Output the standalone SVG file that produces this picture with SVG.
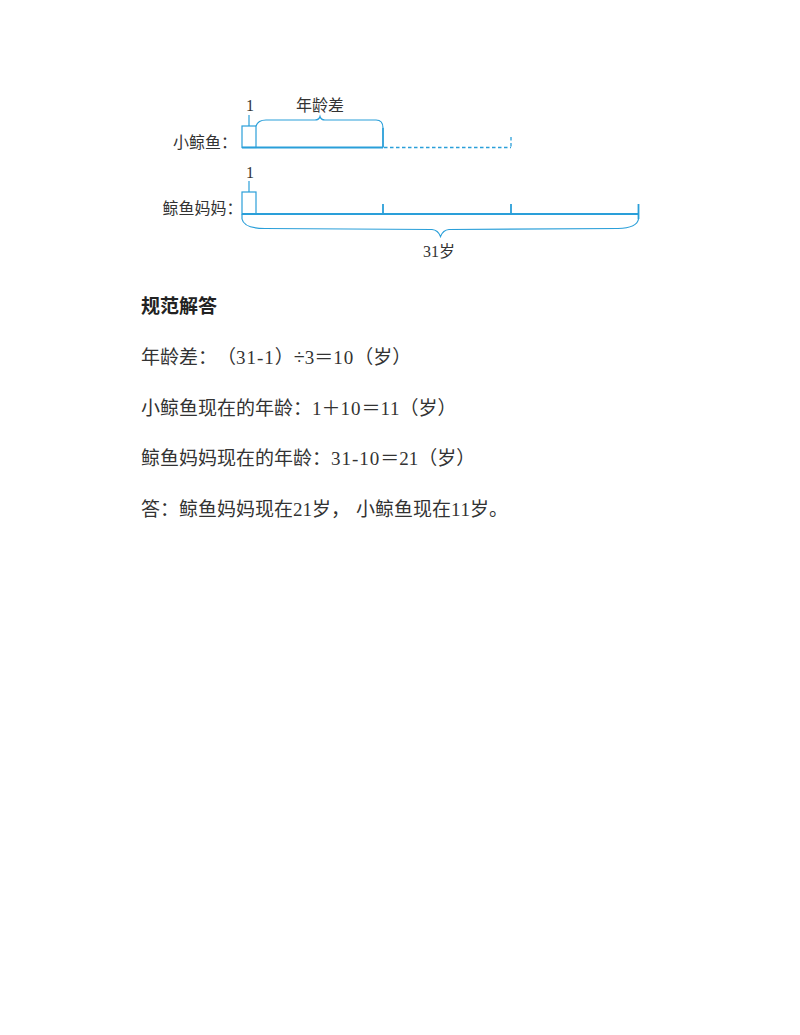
<svg xmlns="http://www.w3.org/2000/svg" width="800" height="1035" viewBox="0 0 800 1035">
<style>
text{text-spacing-trim:space-all;font-kerning:none}
.bar{stroke:#2a9fd9;stroke-width:1.8;fill:none}
.thin{stroke:#2a9fd9;stroke-width:1.2;fill:none}
.dash{stroke:#2a9fd9;stroke-width:1.3;fill:none;stroke-dasharray:3.5 2.5}
.lbl{font-family:"Liberation Serif","Noto Sans CJK SC",serif;font-size:16px;fill:#333}
.body{font-family:"Liberation Serif","Noto Sans CJK SC",serif;font-size:19px;fill:#333}
.head{font-family:"Noto Sans CJK SC",sans-serif;font-size:19px;font-weight:bold;fill:#222}
.num{letter-spacing:1px}
</style>
<rect width="800" height="1035" fill="#fff"/>
<g id="whale-bar">
<text class="lbl" x="173" y="148">小鲸鱼：</text>
<text class="lbl" x="250" y="111" text-anchor="middle" font-size="17">1</text>
<text class="lbl" x="320" y="111" text-anchor="middle">年龄差</text>
<line class="thin" x1="249" y1="115" x2="249" y2="126"/>
<rect class="thin" x="242" y="126" width="14" height="21.5"/>
<path class="thin" d="M256,126 Q258,120 266,120 L315,120 Q319,120 320,116.5 Q321,120 325,120 L376,120 Q383,120 383,128"/>
<line class="bar" x1="242" y1="147.5" x2="383" y2="147.5"/>
<line class="bar" x1="383" y1="128" x2="383" y2="147.5"/>
<line class="dash" x1="384" y1="147.5" x2="511" y2="147.5"/>
<line class="dash" x1="511" y1="137" x2="511" y2="147"/>
</g>
<g id="mother-bar">
<text class="lbl" x="162.5" y="214">鲸鱼妈妈：</text>
<text class="lbl" x="250" y="178" text-anchor="middle" font-size="17">1</text>
<line class="thin" x1="249" y1="181" x2="249" y2="192"/>
<rect class="thin" x="242" y="192" width="14" height="22"/>
<line class="bar" x1="242" y1="214" x2="638.5" y2="214"/>
<line class="bar" x1="383" y1="204" x2="383" y2="214"/>
<line class="bar" x1="511" y1="204" x2="511" y2="214"/>
<line class="bar" x1="638.5" y1="204" x2="638.5" y2="219"/>
<path class="thin" d="M242,214 L242,219 Q244,228.5 265,228.5 L432,229.5 Q438,230 440.5,236.5 Q443,230 449,229.5 L618,228.5 Q637,228 638.5,219"/>
<text class="lbl" x="439" y="257" text-anchor="middle">31岁</text>
</g>
<g id="solution">
<text class="head" x="141" y="313">规范解答</text>
<text class="body" x="141" y="363.5">年龄差：（<tspan class="num">31-1</tspan>）<tspan font-size="20">÷</tspan>3＝<tspan class="num">10</tspan>（岁）</text>
<text class="body" x="141" y="414.5">小鲸鱼现在的年龄：1＋<tspan class="num">10</tspan>＝11（岁）</text>
<text class="body" x="141" y="465">鲸鱼妈妈现在的年龄：<tspan class="num">31-10</tspan>＝21（岁）</text>
<text class="body" x="141" y="515.5">答：鲸鱼妈妈现在21岁，<tspan dx="6">小鲸鱼现在11岁。</tspan></text>
</g>
</svg>
